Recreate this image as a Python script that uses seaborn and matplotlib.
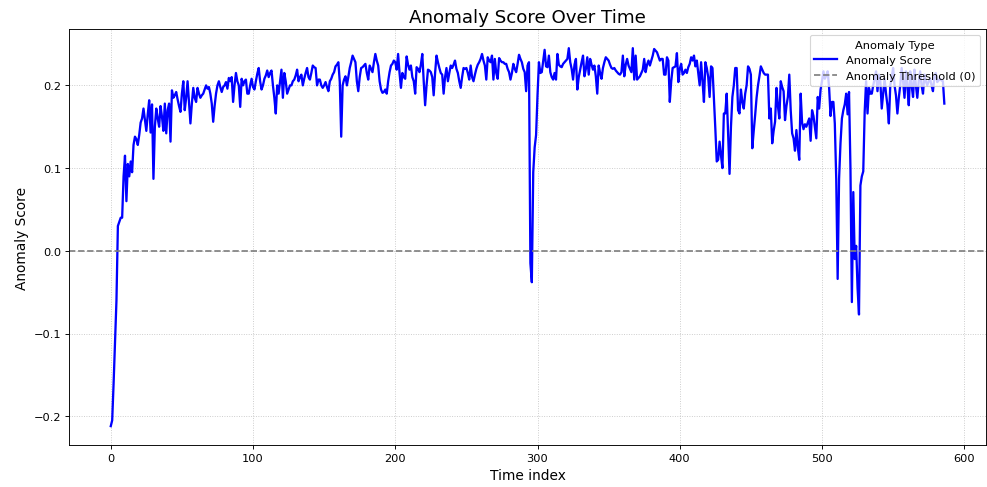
import numpy as np
import pandas as pd
import matplotlib
matplotlib.use("Agg")
import matplotlib.pyplot as plt
import seaborn as sns

seg01 = [-0.212, -0.205, -0.16, -0.11, -0.06, 0.03, 0.035, 0.04, 0.04, 0.09,
         0.115, 0.06, 0.105, 0.09, 0.108, 0.095, 0.128, 0.138, 0.135, 0.128,
         0.14, 0.155, 0.16, 0.172, 0.158, 0.145, 0.165, 0.182, 0.143, 0.177,
         0.087, 0.15, 0.172, 0.16, 0.15, 0.175, 0.162, 0.145, 0.178, 0.142,
         0.17, 0.178, 0.132, 0.194, 0.185, 0.188, 0.192, 0.183, 0.175]
seg02 = [0.168, 0.19, 0.205, 0.17, 0.185, 0.205, 0.18, 0.154, 0.178, 0.197,
         0.185, 0.18, 0.197, 0.19, 0.185, 0.188, 0.19, 0.195, 0.2, 0.196,
         0.198, 0.19, 0.178, 0.156, 0.175, 0.19, 0.2, 0.205, 0.198, 0.192,
         0.198, 0.2, 0.204, 0.196, 0.209, 0.205, 0.21, 0.18, 0.2, 0.215,
         0.205, 0.2, 0.174, 0.208, 0.2, 0.205, 0.207, 0.19]
seg03 = [0.19, 0.2, 0.208, 0.198, 0.195, 0.205, 0.214, 0.221, 0.205, 0.195,
         0.2, 0.208, 0.212, 0.218, 0.21, 0.215, 0.218, 0.2, 0.185, 0.166,
         0.2, 0.19, 0.205, 0.219, 0.185, 0.215, 0.205, 0.19, 0.195, 0.2,
         0.2, 0.205, 0.207, 0.212, 0.219, 0.205, 0.21, 0.213, 0.2, 0.208,
         0.215, 0.221, 0.21, 0.207, 0.215, 0.224, 0.222, 0.221, 0.2, 0.207]
seg04 = [0.207, 0.2, 0.197, 0.2, 0.204, 0.198, 0.193, 0.205, 0.208, 0.213,
         0.216, 0.223, 0.225, 0.228, 0.204, 0.138, 0.2, 0.207, 0.211, 0.2,
         0.21, 0.221, 0.228, 0.236, 0.232, 0.228, 0.205, 0.193, 0.21, 0.221,
         0.222, 0.224, 0.226, 0.215, 0.207, 0.224, 0.22, 0.216, 0.228, 0.238,
         0.23, 0.224, 0.205, 0.195, 0.191, 0.192, 0.195, 0.19, 0.205]
seg05 = [0.216, 0.224, 0.226, 0.23, 0.228, 0.219, 0.238, 0.215, 0.197, 0.215,
         0.21, 0.208, 0.235, 0.225, 0.219, 0.224, 0.21, 0.205, 0.19, 0.222,
         0.22, 0.216, 0.225, 0.238, 0.205, 0.176, 0.2, 0.219, 0.218, 0.216,
         0.21, 0.188, 0.215, 0.236, 0.228, 0.221, 0.215, 0.213, 0.19, 0.21,
         0.221, 0.205, 0.215, 0.224, 0.221, 0.225, 0.23, 0.22, 0.215]
seg06 = [0.205, 0.197, 0.21, 0.221, 0.22, 0.221, 0.215, 0.207, 0.224, 0.21,
         0.205, 0.213, 0.22, 0.225, 0.228, 0.232, 0.238, 0.23, 0.224, 0.207,
         0.234, 0.23, 0.228, 0.236, 0.207, 0.232, 0.215, 0.208, 0.233, 0.23,
         0.228, 0.228, 0.226, 0.226, 0.22, 0.216, 0.207, 0.215, 0.226, 0.22,
         0.216, 0.226, 0.237, 0.232, 0.228, 0.22, 0.216, 0.193, 0.224, 0.228]
seg07 = [-0.015, -0.038, 0.095, 0.125, 0.14, 0.188, 0.228, 0.215, 0.216, 0.23,
         0.243, 0.223, 0.222, 0.236, 0.216, 0.21, 0.207, 0.215, 0.207, 0.238,
         0.225, 0.223, 0.222, 0.226, 0.228, 0.23, 0.232, 0.245, 0.228, 0.22,
         0.207, 0.225, 0.232, 0.195, 0.21, 0.219, 0.228, 0.236, 0.211, 0.22,
         0.234, 0.213, 0.232, 0.225, 0.219, 0.224, 0.211, 0.19]
seg08 = [0.224, 0.215, 0.208, 0.221, 0.228, 0.234, 0.232, 0.23, 0.225, 0.221,
         0.22, 0.221, 0.218, 0.216, 0.214, 0.213, 0.216, 0.236, 0.211, 0.225,
         0.232, 0.224, 0.22, 0.216, 0.245, 0.207, 0.236, 0.207, 0.209, 0.211,
         0.215, 0.219, 0.232, 0.216, 0.225, 0.23, 0.224, 0.23, 0.236, 0.244,
         0.242, 0.24, 0.235, 0.23, 0.232, 0.232, 0.213, 0.213, 0.234]
seg09 = [0.23, 0.18, 0.205, 0.221, 0.222, 0.223, 0.239, 0.204, 0.22, 0.226,
         0.213, 0.215, 0.219, 0.215, 0.222, 0.226, 0.234, 0.23, 0.236, 0.223,
         0.23, 0.215, 0.2, 0.228, 0.205, 0.18, 0.228, 0.221, 0.21, 0.186,
         0.223, 0.221, 0.185, 0.148, 0.108, 0.11, 0.132, 0.115, 0.1, 0.166,
         0.166, 0.19, 0.14, 0.093, 0.15, 0.186, 0.2, 0.221, 0.221]
seg10 = [0.17, 0.166, 0.195, 0.18, 0.172, 0.19, 0.2, 0.223, 0.22, 0.213,
         0.124, 0.145, 0.164, 0.185, 0.2, 0.211, 0.223, 0.219, 0.215, 0.213,
         0.213, 0.213, 0.16, 0.172, 0.13, 0.145, 0.156, 0.197, 0.175, 0.16,
         0.205, 0.198, 0.193, 0.158, 0.175, 0.186, 0.213, 0.17, 0.142, 0.136,
         0.121, 0.146, 0.125, 0.11, 0.19, 0.155, 0.147, 0.153, 0.15]
seg11 = [0.155, 0.16, 0.133, 0.17, 0.163, 0.15, 0.136, 0.186, 0.172, 0.195,
         0.205, 0.217, 0.208, 0.212, 0.217, 0.197, 0.163, 0.18, 0.18, 0.154,
         0.087, -0.034, 0.087, 0.13, 0.16, 0.17, 0.177, 0.19, 0.165, 0.192,
         0.1, -0.062, 0.071, -0.01, 0.006, -0.045, -0.077, 0.079, 0.09, 0.096,
         0.168, 0.205, 0.166, 0.197, 0.19, 0.19, 0.2, 0.208, 0.217, 0.193,
         0.213]
seg12 = [0.205, 0.172, 0.19, 0.208, 0.19, 0.176, 0.154, 0.2, 0.21, 0.221,
         0.2, 0.188, 0.166, 0.185, 0.2, 0.221, 0.205, 0.185, 0.217, 0.2,
         0.176, 0.217, 0.2, 0.186, 0.219, 0.2, 0.185, 0.205, 0.217, 0.2,
         0.19, 0.213, 0.205, 0.2, 0.205, 0.208, 0.2, 0.193, 0.21, 0.215,
         0.204, 0.206, 0.208, 0.206, 0.205, 0.178]

scores = (seg01 + seg02 + seg03 + seg04 + seg05 + seg06 + seg07 + seg08
          + seg09 + seg10 + seg11 + seg12)
time_index = list(range(len(scores)))
threshold = 0.0

df = pd.DataFrame({"Time index": time_index, "Anomaly Score": scores})

plt.rcParams["font.family"] = ["DejaVu Sans"]

fig, ax = plt.subplots(figsize=(12, 5.933), dpi=82.25)
fig.subplots_adjust(left=0.070, right=0.999, top=0.938, bottom=0.086)

sns.lineplot(data=df, x="Time index", y="Anomaly Score", ax=ax,
             color="blue", linewidth=2, label="Anomaly Score")
ax.axhline(threshold, color="gray", linestyle="--", linewidth=1.5,
           label="Anomaly Threshold (0)")

ax.set_title("Anomaly Score Over Time", fontsize=16)
ax.set_xlabel("Time index", fontsize=12)
ax.set_ylabel("Anomaly Score", fontsize=12)
ax.tick_params(axis="both", labelsize=10)
ax.grid(True, linestyle=":", alpha=0.7)
ax.legend(title="Anomaly Type", loc="upper right", fontsize=10, title_fontsize=10)

fig.savefig("out.png", dpi=82.25)
